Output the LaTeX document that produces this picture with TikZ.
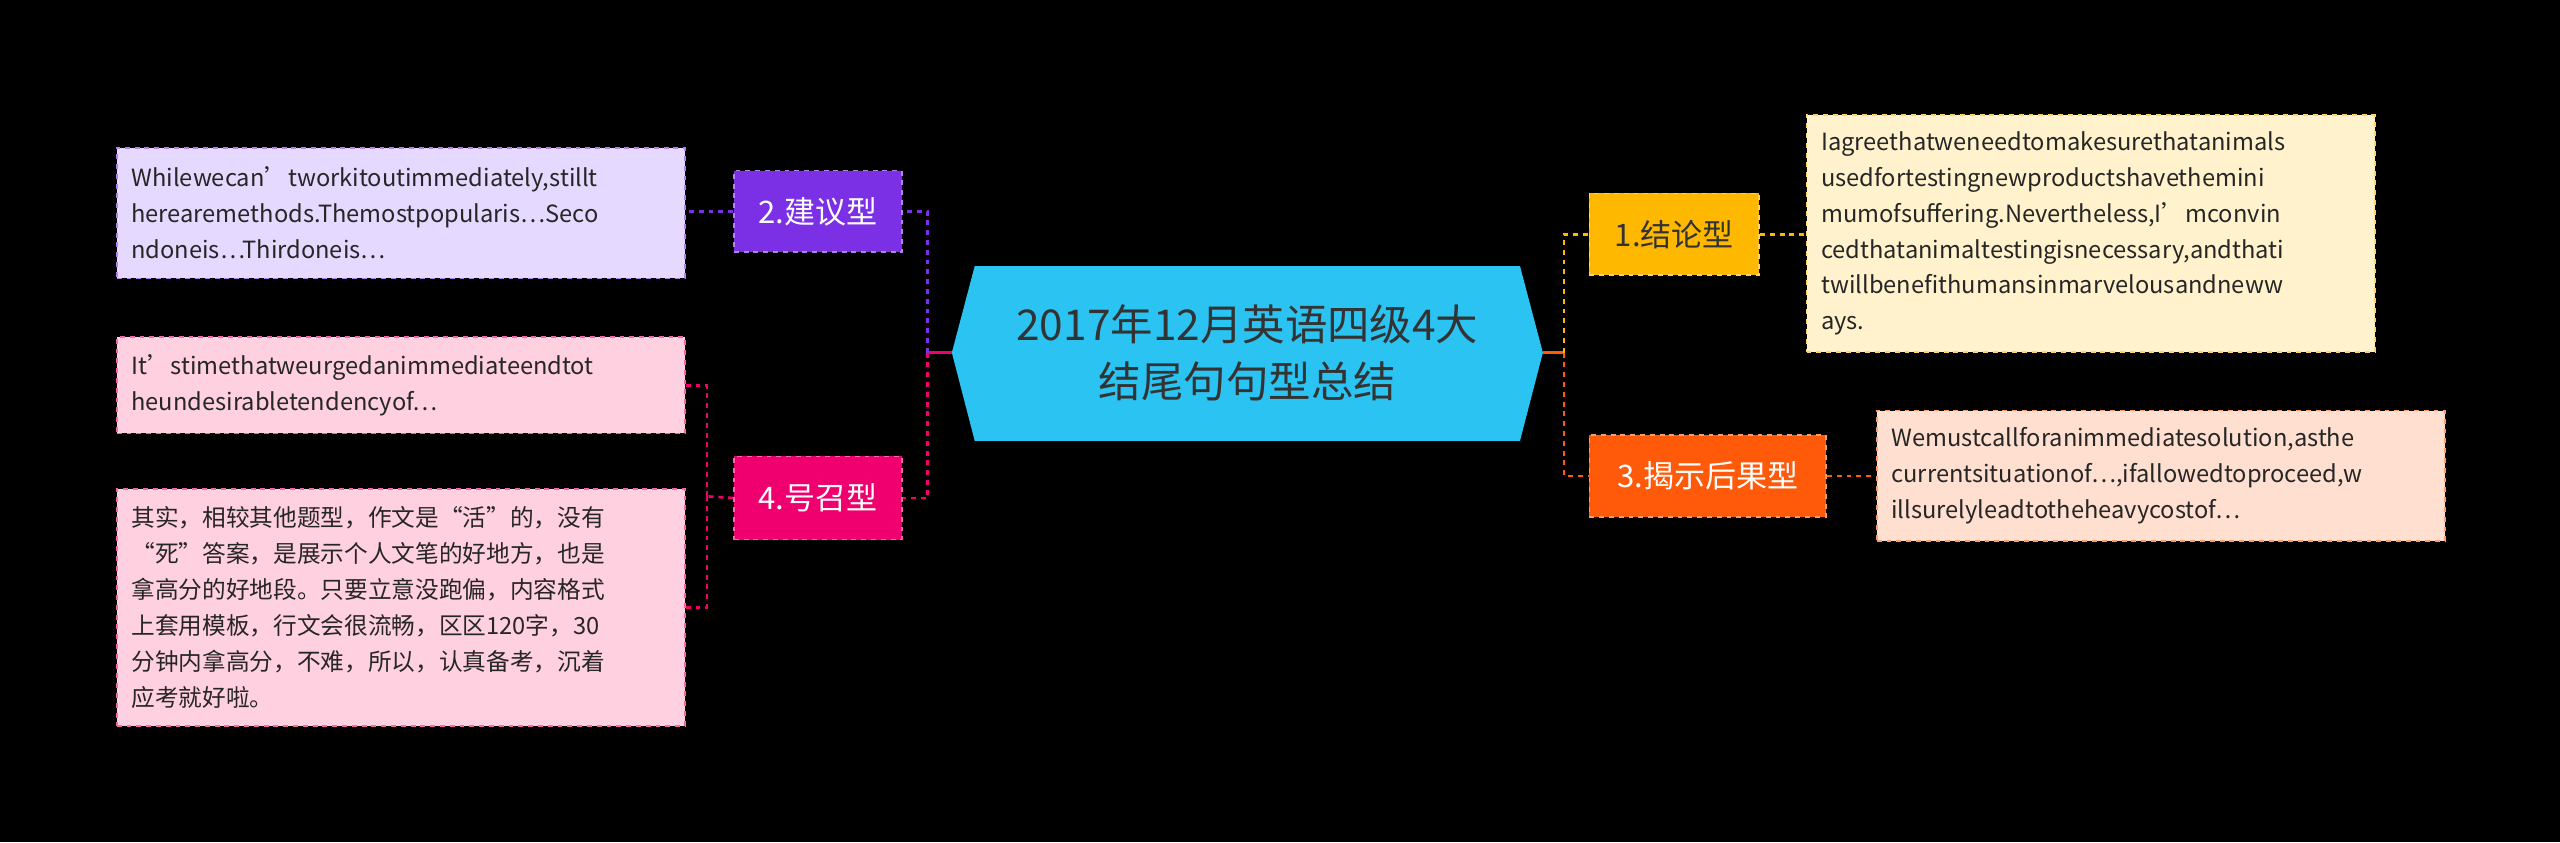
\documentclass[tikz,border=0pt]{standalone}
\usepackage{fontspec}
\setmainfont{Noto Sans CJK SC}
\begin{document}
\begin{tikzpicture}[x=1pt,y=-1pt,
 leaf/.style={draw=#1!60!white,dashed,line width=1pt,anchor=north west,inner xsep=9pt,inner ysep=0pt,text width=330pt,align=left,font=\fontsize{14.5}{22}\selectfont,text=black!85},
 br/.style={anchor=north west,dashed,line width=1pt,inner sep=0pt,font=\fontsize{19}{22}\selectfont},
 con/.style={dashed,line width=1.6pt,draw=#1}]
\fill[black] (0,0) rectangle (1568,516);
\useasboundingbox (0,0) rectangle (1568,516);
\definecolor{cy}{HTML}{FFB800}\definecolor{co}{HTML}{FF5A0A}
\definecolor{cp}{HTML}{7B30E6}\definecolor{cm}{HTML}{F0006E}
\definecolor{cc}{HTML}{2BC3F2}
% center
\fill[cc] (583,216)--(597,163)--(931,163)--(945,216)--(931,270)--(597,270)--cycle;
\node[align=center,text=black!80,font=\fontsize{26}{35}\selectfont] (c) at (764,216) {2017年12月英语四级4大\\结尾句句型总结};
\coordinate (cl) at (583,216); \coordinate (cr) at (945,216);
\coordinate (jl) at (568,216); \coordinate (jr) at (958,216);
% branches
\node[br,fill=cy,draw=cy!60!white,minimum width=104pt,minimum height=50pt,text=black!80] (b1) at (973,118) {1.结论型};
\node[br,fill=co,draw=co!60!white,minimum width=145pt,minimum height=50pt,text=white] (b3) at (973,266) {3.揭示后果型};
\node[br,fill=cp,draw=cp!60!white,minimum width=103pt,minimum height=50pt,text=white] (b2) at (449,104) {2.建议型};
\node[br,fill=cm,draw=cm!60!white,minimum width=103pt,minimum height=51pt,text=white] (b4) at (449,279) {4.号召型};
% leaves
\node[leaf=cy,fill={rgb,255:red,255;green,242;blue,204},minimum height=145pt] (l1) at (1106,70) {Iagreethatweneedtomakesurethatanimals\\usedfortestingnewproductshavethemini\\mumofsuffering.Nevertheless,I’mconvin\\cedthatanimaltestingisnecessary,andthati\\twillbenefithumansinmarvelousandneww\\ays.};
\node[leaf=co,fill={rgb,255:red,255;green,223;blue,208},minimum height=80pt] (l3) at (1149,251) {Wemustcallforanimmediatesolution,asthe\\currentsituationof…,ifallowedtoproceed,w\\illsurelyleadtotheheavycostof…};
\node[leaf=cp,fill={rgb,255:red,230;green,217;blue,255},minimum height=80pt] (l2) at (71,90) {Whilewecan’tworkitoutimmediately,stillt\\herearemethods.Themostpopularis…Seco\\ndoneis…Thirdoneis…};
\node[leaf=cm,fill={rgb,255:red,255;green,208;blue,224},minimum height=59pt] (l4a) at (71,206) {It’stimethatweurgedanimmediateendtot\\heundesirabletendencyof…};
\node[leaf=cm,fill={rgb,255:red,255;green,208;blue,224},minimum height=145pt] (l4b) at (71,299) {其实，相较其他题型，作文是“活”的，没有\\“死”答案，是展示个人文笔的好地方，也是\\拿高分的好地段。只要立意没跑偏，内容格式\\上套用模板，行文会很流畅，区区120字，30\\分钟内拿高分，不难，所以，认真备考，沉着\\应考就好啦。};
% connectors
\draw[con=cm,solid] (cl)--(jl);
\draw[con=co,solid] (cr)--(jr);
\draw[con=cp] (jl)|-(b2.east);
\draw[con=cm] (jl)|-(b4.east);
\draw[con=cy] (jr)|-(b1.west);
\draw[con=co] (jr)|-(b3.west);
\draw[con=cy] (b1.east)--(l1.west|-b1.east);
\draw[con=co] (b3.east)--(l3.west|-b3.east);
\draw[con=cp] (b2.west)--(l2.east|-b2.west);
\coordinate (j4) at (433,304);
\draw[con=cm] (b4.west)--(j4);
\draw[con=cm] (j4)|-(l4a.east);
\draw[con=cm] (j4)|-(l4b.east);
\end{tikzpicture}
\end{document}
